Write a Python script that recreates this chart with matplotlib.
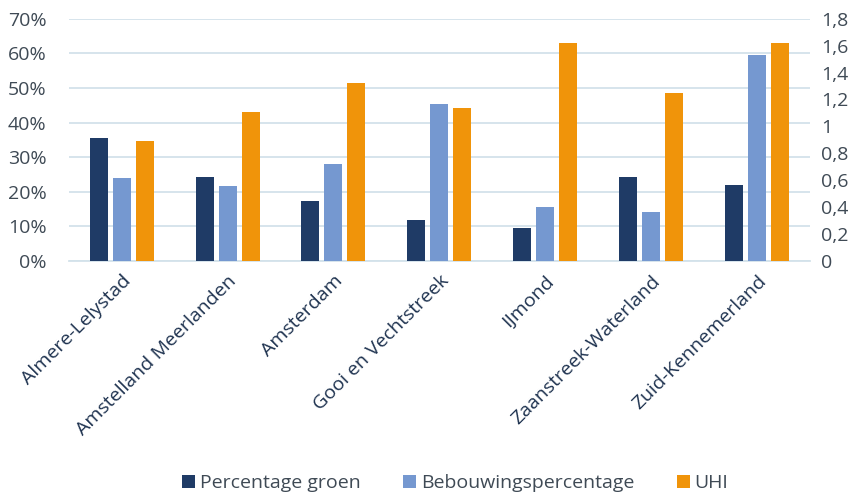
import matplotlib.pyplot as plt
import numpy as np
from matplotlib.ticker import FuncFormatter

plt.rcParams['font.family'] = ['Open Sans', 'DejaVu Sans']

regions = ["Almere-Lelystad", "Amstelland Meerlanden", "Amsterdam",
           "Gooi en Vechtstreek", "IJmond", "Zaanstreek-Waterland",
           "Zuid-Kennemerland"]
groen = [35.5, 24.3, 17.2, 11.8, 9.5, 24.3, 22.0]        # %
bebouwing = [23.9, 21.6, 28.1, 45.3, 15.5, 14.2, 59.6]   # %
uhi = [0.89, 1.11, 1.32, 1.14, 1.62, 1.245, 1.62]

C_DARK = "#1f3b66"
C_LIGHT = "#7598d0"
C_ORANGE = "#f0940a"
C_GRID = "#d3e2ea"
C_TEXT = "#3f4a55"

fig = plt.figure(figsize=(8.59, 4.95), dpi=100)
ax = fig.add_axes([0.080, 0.473, 0.863, 0.489])
ax2 = ax.twinx()

x = np.arange(len(regions))
w = 0.17
step = 0.217

ax.bar(x - step, groen, w, color=C_DARK, label="Percentage groen", zorder=3)
ax.bar(x, bebouwing, w, color=C_LIGHT, label="Bebouwingspercentage", zorder=3)
ax2.bar(x + step, uhi, w, color=C_ORANGE, label="UHI", zorder=3)

ax.set_xlim(-0.5, len(regions) - 0.5)
ax.set_ylim(0, 70)
ax2.set_ylim(0, 1.8)
ax.set_yticks(np.arange(0, 71, 10))
ax2.set_yticks(np.arange(0, 1.81, 0.2))
ax.yaxis.set_major_formatter(FuncFormatter(lambda v, p: f"{v:.0f}%"))

def comma_fmt(v, p):
    if abs(v) < 1e-9:
        return "0"
    if abs(v - round(v)) < 1e-9:
        return f"{int(round(v))}"
    return f"{v:.1f}".replace(".", ",")

ax2.yaxis.set_major_formatter(FuncFormatter(comma_fmt))

ax.grid(axis='y', color=C_GRID, linewidth=1.3, zorder=0)
ax.set_axisbelow(True)
for a in (ax, ax2):
    for s in a.spines.values():
        s.set_visible(False)
    a.tick_params(length=0, labelsize=14, labelcolor=C_TEXT)
ax.tick_params(axis='y', pad=16)
ax2.tick_params(axis='y', pad=8)
ax.spines['bottom'].set_visible(True)
ax.spines['bottom'].set_color(C_GRID)
ax.spines['bottom'].set_linewidth(1.3)

ax.set_xticks(x)
ax.set_xticklabels(regions, rotation=45, ha='right', rotation_mode='anchor',
                   fontsize=14, color="#1f3350")
ax.tick_params(axis='x', pad=8)

handles = ax.get_legend_handles_labels()[0] + ax2.get_legend_handles_labels()[0]
labels = ["Percentage groen", "Bebouwingspercentage", "UHI"]
fig.legend(handles, labels, loc='lower center', ncol=3, frameon=False,
           fontsize=14, bbox_to_anchor=(0.53, -0.03), handlelength=0.65,
           handleheight=0.65, handletextpad=0.25, columnspacing=2.2,
           labelcolor=C_TEXT)

fig.savefig("out.png", dpi=100)
